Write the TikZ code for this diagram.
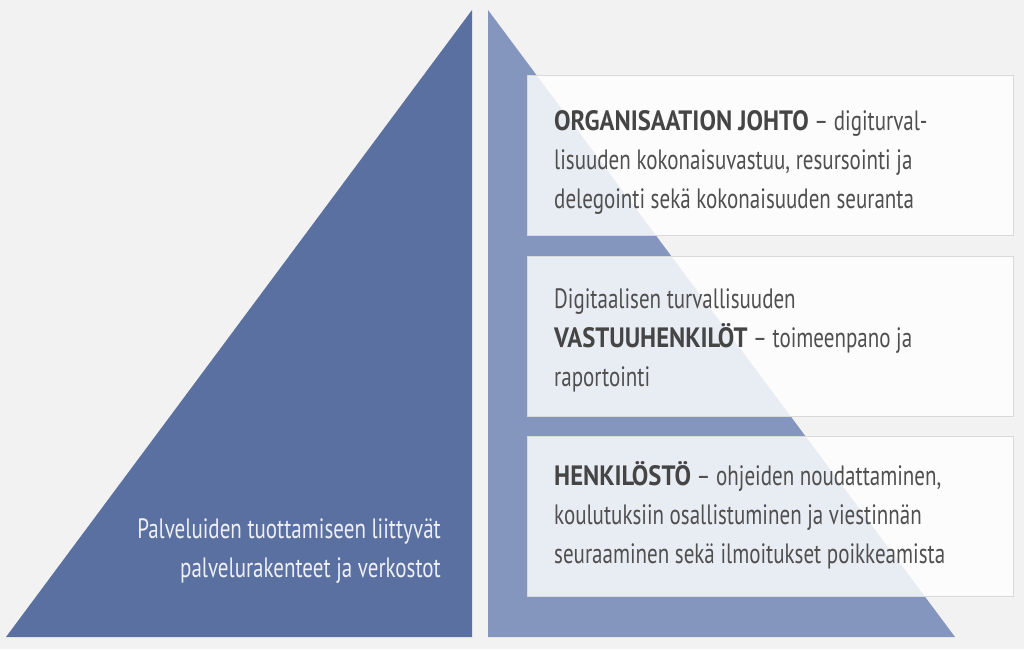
\documentclass[tikz,border=0pt]{standalone}
\usepackage{fontspec}
\setmainfont{PT Sans}[FakeStretch=0.75]
\newfontfamily\headfont{PT Sans}[FakeStretch=0.88]
\definecolor{bgc}{HTML}{F2F2F3}
\definecolor{darktri}{HTML}{5A70A0}
\definecolor{lighttri}{HTML}{8596BE}
\definecolor{txtc}{HTML}{4F4F4F}
\definecolor{boldc}{HTML}{454545}
\definecolor{boxline}{HTML}{D9D9D9}
\definecolor{lefttxt}{HTML}{EEF0F6}
\newcommand{\headtxt}[1]{{\headfont\bfseries\color{boldc}#1}}
\begin{document}
\begin{tikzpicture}[x=1pt,y=-1pt,
  infobox/.style={fill=white,fill opacity=0.82,draw=boxline,line width=1pt},
  boxtext/.style={anchor=base west,inner sep=0pt,align=left,text=txtc,
    font=\fontsize{28}{39}\selectfont},
  lefttext/.style={anchor=base east,inner sep=0pt,align=right,text=lefttxt,
    font=\fontsize{28}{39}\selectfont}]
\fill[bgc] (0,0) rectangle (1024,649);
\useasboundingbox (0,0) rectangle (1024,649);
% half triangles
\fill[darktri] (472,10) -- (472,637) -- (6,637) -- cycle;
\fill[lighttri] (488,10) -- (488,637) -- (955,637) -- cycle;
% boxes
\path[infobox] (527,75) rectangle (1013,235);
\path[infobox] (527,256) rectangle (1013,416);
\path[infobox] (527,436) rectangle (1013,596);
% texts (anchor at baseline of last line)
\node[boxtext] (t1) at (554,208) {\headtxt{ORGANISAATION JOHTO} – digiturval-\\lisuuden kokonaisuvastuu, resursointi ja\\delegointi sekä kokonaisuuden seuranta};
\node[boxtext] (t2) at (554,386) {Digitaalisen turvallisuuden\\\headtxt{VASTUUHENKILÖT} – toimeenpano ja\\raportointi};
\node[boxtext] (t3) at (554,563) {\headtxt{HENKILÖSTÖ} – ohjeiden noudattaminen,\\koulutuksiin osallistuminen ja viestinnän\\seuraaminen sekä ilmoitukset poikkeamista};
\node[lefttext] (t4) at (441,577) {Palveluiden tuottamiseen liittyvät\\palvelurakenteet ja verkostot};
\end{tikzpicture}
\end{document}
